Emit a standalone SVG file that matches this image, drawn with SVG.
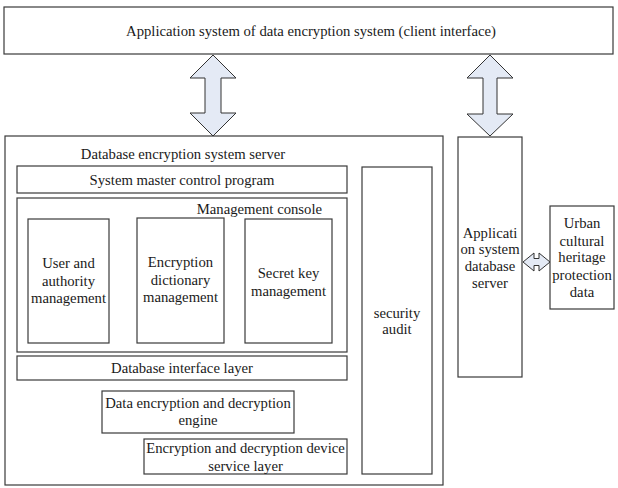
<svg xmlns="http://www.w3.org/2000/svg" width="618" height="488" viewBox="0 0 618 488">
<style>
.box{fill:#fff;stroke:#3a3a3a;stroke-width:1.2}
.t{font-family:"Liberation Serif","Times New Roman",serif;font-size:14.7px;fill:#1a1a1a;text-anchor:middle}
.arr{fill:#e4eaf5;stroke:#333;stroke-width:1}
</style>
<rect width="618" height="488" fill="#fff"/>
<g id="client">
<rect class="box" x="4" y="7" width="609" height="47"/>
<text class="t" x="311" y="36">Application system of data encryption system (client interface)</text>
</g>
<g id="server">
<rect class="box" x="5" y="136" width="438" height="349"/>
<text class="t" x="183" y="159">Database encryption system server</text>
</g>
<g id="master">
<rect class="box" x="17" y="166" width="330" height="27"/>
<text class="t" x="182" y="185">System master control program</text>
</g>
<g id="console">
<rect class="box" x="17" y="198" width="330" height="154"/>
<text class="t" x="322" y="214" style="text-anchor:end">Management console</text>
</g>
<g id="user">
<rect class="box" x="28" y="219" width="81" height="124"/>
<text class="t" x="68.5" y="268">User and</text>
<text class="t" x="68.5" y="286">authority</text>
<text class="t" x="68.5" y="303">management</text>
</g>
<g id="dict">
<rect class="box" x="137" y="218" width="87" height="125"/>
<text class="t" x="180.5" y="267">Encryption</text>
<text class="t" x="180.5" y="285">dictionary</text>
<text class="t" x="180.5" y="302">management</text>
</g>
<g id="key">
<rect class="box" x="245" y="219" width="87" height="124"/>
<text class="t" x="288.5" y="278">Secret key</text>
<text class="t" x="288.5" y="296">management</text>
</g>
<g id="dbif">
<rect class="box" x="17" y="356" width="330" height="24"/>
<text class="t" x="182" y="373">Database interface layer</text>
</g>
<g id="engine">
<rect class="box" x="102" y="391" width="192" height="42"/>
<text class="t" x="198" y="408">Data encryption and decryption</text>
<text class="t" x="198" y="425">engine</text>
</g>
<g id="device">
<rect class="box" x="144" y="439" width="203" height="35"/>
<text class="t" x="245.5" y="453">Encryption and decryption device</text>
<text class="t" x="245.5" y="471">service layer</text>
</g>
<g id="audit">
<rect class="box" x="362" y="167" width="70" height="307"/>
<text class="t" x="397" y="318">security</text>
<text class="t" x="397" y="334">audit</text>
</g>
<g id="appdb">
<rect class="box" x="458" y="137" width="64" height="240"/>
<text class="t" x="490" y="238">Applicati</text>
<text class="t" x="490" y="254">on system</text>
<text class="t" x="490" y="271">database</text>
<text class="t" x="490" y="288">server</text>
</g>
<g id="urban">
<rect class="box" x="550" y="206" width="64" height="103"/>
<text class="t" x="582" y="228">Urban</text>
<text class="t" x="582" y="246">cultural</text>
<text class="t" x="582" y="262">heritage</text>
<text class="t" x="582" y="280">protection</text>
<text class="t" x="582" y="297">data</text>
</g>
<g id="connectors">
<polygon class="arr" points="213,55 236,78 221,78 221,113 236,113 213,136 190,113 205,113 205,78 190,78"/>
<polygon class="arr" points="490,55 513,78 497,78 497,114 513,114 490,136 467,114 483,114 483,78 467,78"/>
<polygon class="arr" points="523,262 534,253 534,258.5 539,258.5 539,253 550,262 539,271 539,265.5 534,265.5 534,271"/>
</g>
</svg>
